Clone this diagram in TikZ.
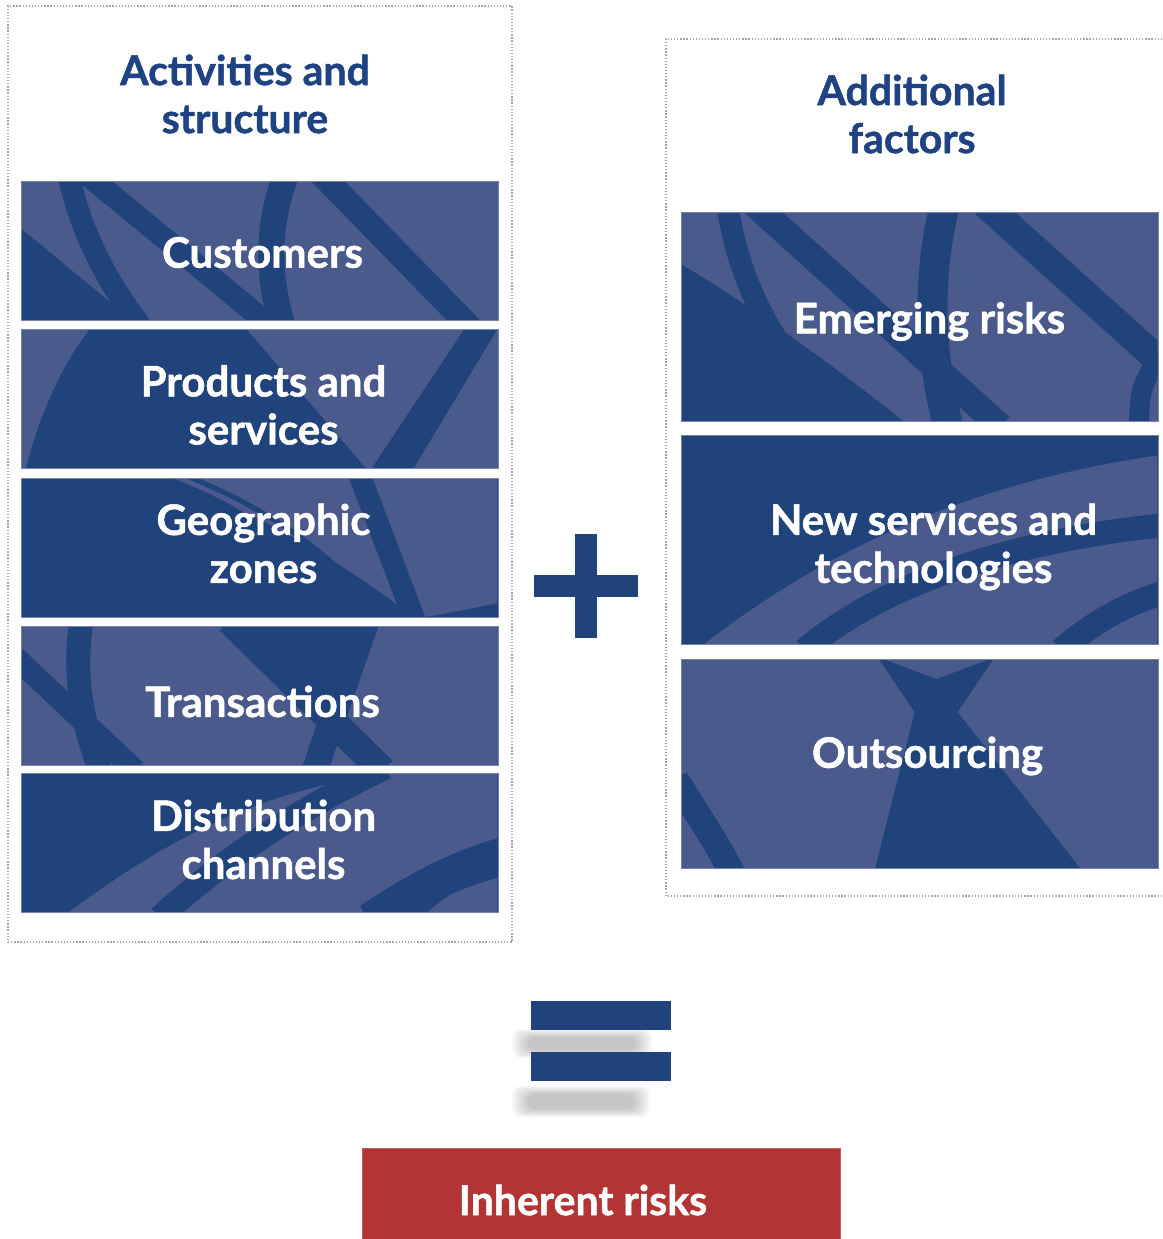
\documentclass[tikz,border=0pt]{standalone}
\usepackage{fontspec}
\setmainfont{Lato}[BoldFeatures={FakeBold=1.2}]
\definecolor{bL}{HTML}{4A5A8C}
\definecolor{bD}{HTML}{21437B}
\definecolor{hdr}{HTML}{1F4282}
\definecolor{redbox}{HTML}{B33434}
\definecolor{dotg}{HTML}{A6A6A6}
\pgfdeclarelayer{bg}
\pgfsetlayers{bg,main}
\begin{document}
\begin{tikzpicture}[x=1pt,y=-1pt,
  panel/.style={draw=dotg, line width=1.3pt, dash pattern=on 1.3pt off 1.8pt},
  header/.style={text=hdr, font=\fontsize{41}{48}\selectfont\bfseries, align=center, inner sep=0pt},
  blk/.style={draw=bL!75!white, line width=0.8pt, minimum width=477pt, inner sep=0pt},
  shortblk/.style={blk, minimum height=139pt},
  tallblk/.style={blk, minimum height=209pt},
  blktext/.style={text=white, font=\fontsize{42}{48}\selectfont\bfseries, align=center, inner sep=0pt},
  band/.style={draw=bD, line width=24pt},
  signbar/.style={fill=bD, inner sep=0pt, draw=none},
  shade/.style={fill=black, opacity=0.028, rounded corners=8pt},
  result/.style={fill=redbox, draw=redbox!80!white, line width=0.8pt, minimum width=478pt, minimum height=102pt, inner sep=0pt}
]
\useasboundingbox (0,0) rectangle (1162,1239);

% ---------- left panel ----------
\node[panel, minimum width=504pt, minimum height=936pt, inner sep=0pt] (leftpanel) at (260,474) {};
\node[header] (lefttitle) at (245,94) {Activities and\\structure};

\node[shortblk] (cust) at (259.5,250.5) {};
\node[shortblk] (prod) at (259.5,399) {};
\node[shortblk] (geo) at (259.5,547.5) {};
\node[shortblk] (trans) at (259.5,695.5) {};
\node[shortblk] (dist) at (259.5,842.5) {};

\begin{pgfonlayer}{bg}
  % Customers
  \fill[bL] (cust.north west) rectangle (cust.south east);
  \begin{scope}
    \clip ([shift={(1,1)}]cust.north west) rectangle ([shift={(-1,-1)}]cust.south east);
    \begin{scope}[shift={(cust.north west)}]
      \fill[bD] (-2,46) .. controls (40,80) and (80,115) .. (115,141) -- (-2,141) -- cycle;
      \draw[band, line width=22pt] (48,-5) .. controls (60,50) and (85,100) .. (120,145);
      \draw[band, line width=22pt] (64,-8) -- (252,147);
      \draw[band, line width=26pt] (265,-5) .. controls (245,50) and (248,100) .. (262,145);
      \draw[band, line width=24pt] (299,-8) -- (450,147);
    \end{scope}
  \end{scope}
  % Products and services
  \fill[bL] (prod.north west) rectangle (prod.south east);
  \begin{scope}
    \clip ([shift={(1,1)}]prod.north west) rectangle ([shift={(-1,-1)}]prod.south east);
    \begin{scope}[shift={(prod.north west)}]
      \fill[bD] (71,-2) -- (224,-2) -- (347,141) -- (5,141) .. controls (20,80) and (45,30) .. (71,-2) -- cycle;
      \fill[bD] (445,-2) -- (478,-2) -- (392,141) -- (350,141) -- cycle;
    \end{scope}
  \end{scope}
  % Geographic zones
  \fill[bD] (geo.north west) rectangle (geo.south east);
  \begin{scope}
    \clip ([shift={(1,1)}]geo.north west) rectangle ([shift={(-1,-1)}]geo.south east);
    \begin{scope}[shift={(geo.north west)}]
      \fill[bL] (121,-2) -- (480,-2) -- (480,125) .. controls (430,135) .. (395,141) .. controls (330,90) and (220,20) .. (121,-2) -- cycle;
      \draw[bD, line width=7pt] (135,-2) .. controls (240,35) and (300,90) .. (330,141);
      \draw[bD, line width=5pt] (165,-2) .. controls (270,40) and (330,95) .. (360,141);
      \draw[band, line width=22pt] (338,-5) -- (395,145);
    \end{scope}
  \end{scope}
  % Transactions
  \fill[bL] (trans.north west) rectangle (trans.south east);
  \begin{scope}
    \clip ([shift={(1,1)}]trans.north west) rectangle ([shift={(-1,-1)}]trans.south east);
    \begin{scope}[shift={(trans.north west)}]
      \draw[band, line width=24pt] (61,-5) .. controls (52,50) and (62,100) .. (80,145);
      \draw[band, line width=22pt] (-5,32) -- (115,145);
      \fill[bD] (196,-2) -- (358,-2) -- (312,94) -- cycle;
      \draw[band, line width=28pt] (209,-5) -- (362,145);
      \draw[band, line width=26pt] (346,-5) -- (294,145);
    \end{scope}
  \end{scope}
  % Distribution channels
  \fill[bD] (dist.north west) rectangle (dist.south east);
  \begin{scope}
    \clip ([shift={(1,1)}]dist.north west) rectangle ([shift={(-1,-1)}]dist.south east);
    \begin{scope}[shift={(dist.north west)}]
      \fill[bL] (46,141) .. controls (130,80) and (220,20) .. (379,-2) -- (480,-2) -- (480,70) .. controls (420,90) and (370,115) .. (340,141) -- cycle;
      \draw[band, line width=24pt] (139,145) .. controls (210,80) and (290,30) .. (365,-5);
      \draw[band, line width=28pt] (347,145) .. controls (400,110) and (440,90) .. (485,78);
      \fill[bL] (405,141) .. controls (430,120) .. (480,104) -- (480,141) -- cycle;
    \end{scope}
  \end{scope}
\end{pgfonlayer}

\node[blktext] (custtext) at ([xshift=3pt,yshift=-2pt]cust.center) {Customers};
\node[blktext] (prodtext) at ([xshift=4pt,yshift=-6pt]prod.center) {Products and\\services};
\node[blktext] (geotext) at ([xshift=4pt,yshift=4pt]geo.center) {Geographic\\zones};
\node[blktext] (transtext) at ([xshift=3pt,yshift=-6pt]trans.center) {Transactions};
\node[blktext] (disttext) at ([xshift=4pt,yshift=3pt]dist.center) {Distribution\\channels};

% ---------- right panel ----------
\coordinate (rtopend) at (1162,39);
\coordinate (rtl) at (666,39);
\coordinate (rbl) at (666,896);
\coordinate (rbotend) at (1162,896);
\draw[panel] (rtopend) -- (rtl) -- (rbl) -- (rbotend);
\node[header] (righttitle) at (912,114) {Additional\\factors};

\node[tallblk] (emerg) at (919.5,316.5) {};
\node[tallblk] (newsvc) at (919.5,540) {};
\node[tallblk] (outs) at (919.5,764) {};

\begin{pgfonlayer}{bg}
  % Emerging risks
  \fill[bL] (emerg.north west) rectangle (emerg.south east);
  \begin{scope}
    \clip ([shift={(1,1)}]emerg.north west) rectangle ([shift={(-1,-1)}]emerg.south east);
    \begin{scope}[shift={(emerg.north west)}]
      \fill[bD] (-2,51) .. controls (80,100) and (160,160) .. (225,211) -- (-2,211) -- cycle;
      \draw[band, line width=22pt] (47,-5) .. controls (60,80) and (100,150) .. (170,215);
      \draw[band, line width=26pt] (73,-8) -- (320,215);
      \draw[band, line width=30pt] (264,-5) .. controls (245,70) and (250,150) .. (268,215);
      \draw[band, line width=28pt] (304,-8) -- (485,155);
      \draw[band, line width=20pt] (458,215) .. controls (460,175) .. (482,140);
    \end{scope}
  \end{scope}
  % New services and technologies
  \fill[bD] (newsvc.north west) rectangle (newsvc.south east);
  \begin{scope}
    \clip ([shift={(1,1)}]newsvc.north west) rectangle ([shift={(-1,-1)}]newsvc.south east);
    \begin{scope}[shift={(newsvc.north west)}]
      \fill[bL] (21,211) .. controls (150,110) and (300,45) .. (480,20) -- (480,211) -- cycle;
      \draw[band, line width=24pt] (124,215) .. controls (200,150) and (330,105) .. (485,90);
      \draw[band, line width=24pt] (380,215) .. controls (410,190) and (440,170) .. (485,157);
    \end{scope}
  \end{scope}
  % Outsourcing
  \fill[bL] (outs.north west) rectangle (outs.south east);
  \begin{scope}
    \clip ([shift={(1,1)}]outs.north west) rectangle ([shift={(-1,-1)}]outs.south east);
    \begin{scope}[shift={(outs.north west)}]
      \fill[bD] (197,-2) -- (256,20) -- (314,-2) -- (277,53) -- (401,211) -- (194,211) -- (234,53) -- cycle;
      \draw[band, line width=26pt] (-5,120) .. controls (20,160) and (40,190) .. (52,215);
    \end{scope}
  \end{scope}
\end{pgfonlayer}

\node[blktext] (emergtext) at ([xshift=10pt,yshift=-5pt]emerg.center) {Emerging risks};
\node[blktext] (newsvctext) at ([xshift=14pt,yshift=-7pt]newsvc.center) {New services and\\technologies};
\node[blktext] (outstext) at ([xshift=8pt,yshift=8pt]outs.center) {Outsourcing};

% ---------- plus ----------
\node[signbar, minimum width=104pt, minimum height=22pt] (plush) at (586,586) {};
\node[signbar, minimum width=22pt, minimum height=104pt] (plusv) at (586,586) {};

% ---------- equals with soft shadows ----------
\foreach \g in {0,2,...,16}{
  \fill[shade] (528-\g,1037-\g/2) rectangle (636+\g,1050+\g/2);
  \fill[shade] (528-\g,1094-\g/2) rectangle (634+\g,1109+\g/2);
}
\node[signbar, minimum width=140pt, minimum height=29pt] (eqtop) at (601,1015.5) {};
\node[signbar, minimum width=140pt, minimum height=29pt] (eqbot) at (601,1066.5) {};

% ---------- result ----------
\node[result] (inherent) at (601,1199) {};
\node[blktext, font=\fontsize{41}{48}\selectfont\bfseries] (inherenttext) at ([xshift=-18pt,yshift=-1pt]inherent.center) {Inherent risks};
\end{tikzpicture}
\end{document}
